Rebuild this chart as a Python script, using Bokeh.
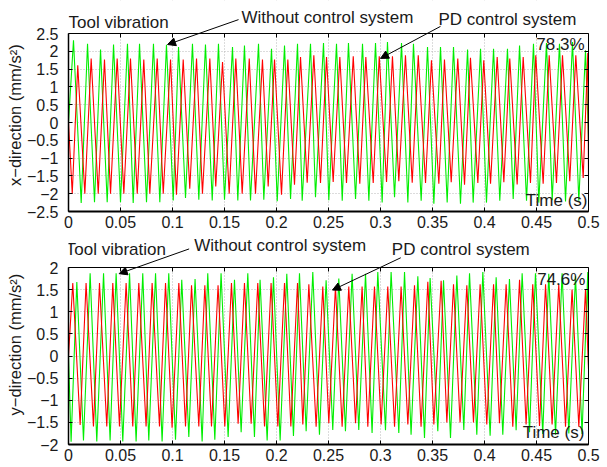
from bokeh.plotting import figure
from bokeh.layouts import column
from bokeh.models import FixedTicker, LinearAxis, Label, Arrow, NormalHead, Range1d, BoxAnnotation
from bokeh.embed import file_html
from bokeh.resources import INLINE

FONT = "Liberation Sans"
GREEN = "#00ee00"
RED = "#ff0000"

# ---------------- ticks ----------------
x_ticks = [0, 0.05, 0.1, 0.15, 0.2, 0.25, 0.3, 0.35, 0.4, 0.45, 0.5]
x_tick_labels = ["0", "0.05", "0.1", "0.15", "0.2", "0.25", "0.3", "0.35", "0.4", "0.45", "0.5"]
top_y_ticks = [-2.5, -2, -1.5, -1, -0.5, 0, 0.5, 1, 1.5, 2, 2.5]
top_y_tick_labels = ["\u22122.5", "\u22122", "\u22121.5", "\u22121", "\u22120.5", "0", "0.5", "1", "1.5", "2", "2.5"]
bot_y_ticks = [-2, -1.5, -1, -0.5, 0, 0.5, 1, 1.5, 2]
bot_y_tick_labels = ["\u22122", "\u22121.5", "\u22121", "\u22120.5", "0", "0.5", "1", "1.5", "2"]

# ---------------- top panel (x-direction) ----------------
top_green_peak_t = [0.0048, 0.0183, 0.0308, 0.0433, 0.0567, 0.0683, 0.0817, 0.0942, 0.1058, 0.1192,
                    0.1317, 0.1442, 0.1577, 0.1692, 0.1827, 0.1952, 0.2077, 0.2202, 0.2327, 0.2452,
                    0.2577, 0.2692, 0.2827, 0.2952, 0.3067, 0.3202, 0.3317, 0.3452, 0.3577, 0.3702,
                    0.3837, 0.3962, 0.4087, 0.4221, 0.4337, 0.4471, 0.4596, 0.4721, 0.4846, 0.4971]
top_green_peak_v = [2.31, 2.21, 2.05, 2.19, 2.21, 2.21, 2.21, 2.18, 2.12, 2.21,
                    2.19, 2.21, 2.12, 2.16, 2.21, 2.07, 2.16, 2.21, 2.21, 2.23,
                    2.21, 2.23, 2.21, 2.23, 2.26, 2.23, 2.21, 2.12, 2.12, 2.12,
                    2.05, 2.07, 2.07, 2.07, 2.16, 2.21, 2.23, 2.21, 2.26, 2.03]
top_green_trough_t = [0.0122, 0.0250, 0.0372, 0.0500, 0.0622, 0.0750, 0.0878, 0.1007, 0.1125, 0.1253,
                      0.1382, 0.1500, 0.1628, 0.1750, 0.1878, 0.2007, 0.2135, 0.2247, 0.2375, 0.2503,
                      0.2632, 0.2760, 0.2888, 0.3016, 0.3135, 0.3263, 0.3391, 0.3513, 0.3641, 0.3769,
                      0.3891, 0.4019, 0.4147, 0.4276, 0.4404, 0.4522, 0.4651, 0.4779, 0.4907]
top_green_trough_v = [-2.26, -2.24, -2.24, -2.24, -2.26, -2.24, -2.24, -2.19, -2.12, -2.17,
                      -2.19, -2.17, -2.19, -2.19, -2.17, -2.21, -2.15, -2.20, -2.10, -2.18,
                      -2.20, -2.15, -2.20, -2.25, -2.10, -2.25, -2.20, -2.28, -2.25, -2.28,
                      -2.25, -2.25, -2.20, -2.15, -2.20, -2.25, -2.18, -2.22, -2.20]
top_green_start = (0.0, 0.0)
top_green_end = (0.5, -0.5)

top_red_peak_t = [0.0089, 0.0218, 0.0346, 0.0468, 0.0596, 0.0724, 0.0853, 0.0981, 0.1103, 0.1231,
                  0.1359, 0.1481, 0.1609, 0.1738, 0.1865, 0.1981, 0.2109, 0.2231, 0.2359, 0.2481,
                  0.2609, 0.2738, 0.2859, 0.2988, 0.3115, 0.3240, 0.3363, 0.3490, 0.3615, 0.3743,
                  0.3865, 0.3993, 0.4122, 0.4243, 0.4372, 0.4493, 0.4622, 0.4750, 0.4878, 0.4993]
top_red_peak_v = [1.61, 1.80, 1.77, 1.80, 1.80, 1.77, 1.80, 1.77, 1.77, 1.80,
                  1.80, 1.70, 1.80, 1.80, 1.77, 1.77, 1.77, 1.84, 1.89, 1.84,
                  1.84, 1.86, 1.84, 1.86, 1.86, 1.89, 1.89, 1.75, 1.77, 1.80,
                  1.82, 1.75, 1.84, 1.80, 1.84, 1.89, 1.89, 1.89, 1.89, 1.95]
top_red_trough_t = [0.0036, 0.0157, 0.0286, 0.0404, 0.0532, 0.0661, 0.0782, 0.0911, 0.1038, 0.1166,
                    0.1288, 0.1416, 0.1545, 0.1670, 0.1798, 0.1920, 0.2048, 0.2173, 0.2295, 0.2423,
                    0.2545, 0.2673, 0.2801, 0.2930, 0.3058, 0.3176, 0.3305, 0.3433, 0.3561, 0.3680,
                    0.3808, 0.3936, 0.4058, 0.4186, 0.4314, 0.4442, 0.4564, 0.4692, 0.4820, 0.4949]
top_red_trough_v = [-2.00, -2.00, -2.00, -2.00, -2.00, -2.00, -2.00, -2.00, -2.03, -1.86,
                    -2.00, -1.80, -2.00, -2.00, -2.00, -1.80, -2.03, -1.75, -1.69, -1.70,
                    -1.67, -1.70, -1.72, -1.70, -1.67, -1.65, -1.69, -1.70, -1.72, -1.68,
                    -1.75, -1.70, -1.72, -1.68, -1.74, -1.70, -1.72, -1.70, -1.65, -1.56]
top_red_start = (0.0, 0.0)
top_red_end = (0.5, -1.5)

# ---------------- bottom panel (y-direction) ----------------
bot_green_peak_t = [0.0080, 0.0208, 0.0337, 0.0458, 0.0587, 0.0714, 0.0837, 0.0964, 0.1089, 0.1217,
                    0.1339, 0.1467, 0.1596, 0.1724, 0.1842, 0.1971, 0.2099, 0.2221, 0.2349, 0.2477,
                    0.2599, 0.2727, 0.2856, 0.2974, 0.3102, 0.3231, 0.3359, 0.3477, 0.3606, 0.3734,
                    0.3856, 0.3984, 0.4112, 0.4240, 0.4362, 0.4490, 0.4618, 0.4746, 0.4875, 0.4993]
bot_green_peak_v = [1.67, 1.87, 1.87, 1.87, 1.87, 1.87, 1.87, 1.87, 1.72, 1.74,
                    1.87, 1.87, 1.72, 1.87, 1.72, 1.78, 1.86, 1.87, 1.90, 1.71,
                    1.75, 1.86, 1.86, 1.90, 1.90, 1.90, 1.80, 1.76, 1.71, 1.82,
                    1.87, 1.90, 1.78, 1.74, 1.87, 1.87, 1.86, 1.87, 1.80, 1.90]
bot_green_trough_t = [0.0025, 0.0144, 0.0272, 0.0400, 0.0522, 0.0650, 0.0772, 0.0900, 0.1029, 0.1157,
                      0.1285, 0.1407, 0.1535, 0.1660, 0.1788, 0.1910, 0.2035, 0.2163, 0.2285, 0.2413,
                      0.2541, 0.2663, 0.2791, 0.2919, 0.3048, 0.3176, 0.3294, 0.3423, 0.3551, 0.3673,
                      0.3801, 0.3926, 0.4054, 0.4176, 0.4304, 0.4433, 0.4560, 0.4683, 0.4811, 0.4938]
bot_green_trough_v = [-1.94, -1.91, -1.93, -1.91, -1.93, -1.93, -1.91, -1.93, -1.89, -1.83,
                      -1.93, -1.89, -1.83, -1.72, -1.83, -1.91, -1.91, -1.81, -1.70, -1.78,
                      -1.67, -1.70, -1.67, -1.74, -1.68, -1.74, -1.78, -1.85, -1.70, -1.85,
                      -1.67, -1.78, -1.80, -1.78, -1.68, -1.72, -1.76, -1.78, -1.75, -1.76]
bot_green_start = (0.0, 0.0)
bot_green_end = (0.5, -0.2)

bot_red_peak_t = [0.0041, 0.0169, 0.0298, 0.0426, 0.0554, 0.0676, 0.0804, 0.0933, 0.1061, 0.1183,
                  0.1311, 0.1438, 0.1567, 0.1692, 0.1820, 0.1948, 0.2077, 0.2202, 0.2311, 0.2445,
                  0.2567, 0.2695, 0.2823, 0.2942, 0.3070, 0.3198, 0.3327, 0.3455, 0.3583, 0.3702,
                  0.3830, 0.3958, 0.4087, 0.4208, 0.4337, 0.4464, 0.4587, 0.4714, 0.4842, 0.4971]
bot_red_peak_v = [1.65, 1.65, 1.65, 1.65, 1.65, 1.65, 1.65, 1.65, 1.65, 1.60,
                  1.60, 1.60, 1.65, 1.65, 1.65, 1.65, 1.65, 1.65, 1.62, 1.57,
                  1.57, 1.57, 1.57, 1.57, 1.57, 1.57, 1.60, 1.68, 1.70, 1.62,
                  1.60, 1.62, 1.62, 1.62, 1.72, 1.62, 1.62, 1.62, 1.50, 1.50]
bot_red_trough_t = [0.0112, 0.0240, 0.0368, 0.0490, 0.0618, 0.0746, 0.0875, 0.0996, 0.1125, 0.1253,
                    0.1375, 0.1503, 0.1631, 0.1756, 0.1885, 0.2013, 0.2138, 0.2253, 0.2381, 0.2503,
                    0.2631, 0.2760, 0.2878, 0.3006, 0.3135, 0.3263, 0.3390, 0.3513, 0.3638, 0.3765,
                    0.3894, 0.4022, 0.4144, 0.4272, 0.4400, 0.4529, 0.4650, 0.4779, 0.4907]
bot_red_trough_v = [-1.56, -1.59, -1.59, -1.59, -1.59, -1.59, -1.59, -1.62, -1.59, -1.59,
                    -1.59, -1.59, -1.53, -1.53, -1.59, -1.59, -1.59, -1.55, -1.60, -1.52,
                    -1.60, -1.52, -1.60, -1.55, -1.60, -1.55, -1.60, -1.55, -1.50, -1.50,
                    -1.50, -1.55, -1.52, -1.60, -1.55, -1.58, -1.55, -1.60, -1.60]
bot_red_start = (0.0, 0.0)
bot_red_end = (0.5, -0.3)

# ---------------- texts ----------------
title_text = "Tool vibration"
without_text = "Without control system"
pd_text = "PD control system"
top_reduction = "78.3%"
bot_reduction = "74.6%"
x_label = "Time (s)"
top_y_label = "x\u2212direction (mm/s\u00b2)"
bot_y_label = "y\u2212direction (mm/s\u00b2)"


def trace(start, pt, pv, tt, tv, end):
    pts = [start] + list(zip(pt, pv)) + list(zip(tt, tv)) + [end]
    pts.sort(key=lambda a: a[0])
    return [a[0] for a in pts], [a[1] for a in pts]


def make_panel(ylo, yhi, yticks, ylabels, ylabel, label_pad, frame_h, data_h, ml, mr, mb):
    # the frame extends above the data box so that the headings can live inside it
    ppu = data_h / (yhi - ylo)
    ytop = ylo + frame_h / ppu
    p = figure(frame_width=520, frame_height=frame_h,
               x_range=Range1d(0, 0.5), y_range=Range1d(ylo, ytop),
               output_backend="svg", toolbar_location=None,
               min_border_left=ml, min_border_right=mr,
               min_border_top=0, min_border_bottom=mb,
               background_fill_color="white", border_fill_color="white")
    p.outline_line_color = None

    xt = FixedTicker(ticks=x_ticks)
    yt = FixedTicker(ticks=yticks)
    p.xaxis.ticker = xt
    p.yaxis.ticker = yt
    p.xgrid.ticker = xt
    p.ygrid.ticker = yt
    p.xaxis.major_label_overrides = {t: l for t, l in zip(x_ticks, x_tick_labels)}
    p.yaxis.major_label_overrides = {t: l for t, l in zip(yticks, ylabels)}
    for g in (p.xgrid, p.ygrid):
        g.grid_line_color = "#b8b8b8"
        g.grid_line_dash = "1 2"
        g.grid_line_width = 1
    # blank out the part of the frame above the data box (hides vertical grid there)
    p.add_layout(BoxAnnotation(bottom=yhi, fill_color="white", fill_alpha=1.0,
                               line_color=None, level="underlay"))

    for ax in (p.xaxis[0], p.yaxis[0]):
        ax.major_tick_in = 4
        ax.major_tick_out = 0
        ax.minor_tick_line_color = None
        ax.axis_line_color = "black"
        ax.major_tick_line_color = "black"
        ax.major_label_text_font = FONT
        ax.major_label_text_font_size = "16px"
        ax.major_label_text_color = "#1a1a1a"
    p.xaxis.axis_line_width = 2
    p.yaxis.axis_line_width = 1.5
    p.yaxis.bounds = (ylo, yhi)
    p.xaxis.major_label_standoff = 4
    p.yaxis.major_label_standoff = 10
    # non-breaking spaces at the end move the centred label down onto the data box
    p.yaxis.axis_label = ylabel + "\u00a0" * label_pad
    p.yaxis.axis_label_text_font = FONT
    p.yaxis.axis_label_text_font_size = "16.5px"
    p.yaxis.axis_label_text_font_style = "normal"
    p.yaxis.axis_label_text_color = "#1a1a1a"
    p.yaxis.axis_label_standoff = 0

    top_ax = LinearAxis(ticker=FixedTicker(ticks=x_ticks), fixed_location=yhi,
                        major_label_text_font_size="1px", major_label_text_color=None,
                        major_tick_in=4, major_tick_out=0, minor_tick_line_color=None,
                        major_label_standoff=0, axis_line_color="black", axis_line_width=1)
    right_ax = LinearAxis(ticker=FixedTicker(ticks=yticks), bounds=(ylo, yhi),
                          major_label_text_font_size="1px", major_label_text_color=None,
                          major_tick_in=4, major_tick_out=0, minor_tick_line_color=None,
                          major_label_standoff=0, axis_line_color="black", axis_line_width=1)
    p.add_layout(top_ax, "above")
    p.add_layout(right_ax, "right")
    return p


def add_label(p, x, y, text, align="left"):
    p.add_layout(Label(x=x, y=y, text=text, text_font=FONT, text_font_size="17px",
                       text_color="#1a1a1a", text_align=align, text_baseline="middle"))


def add_arrow(p, x0, y0, x1, y1):
    p.add_layout(Arrow(x_start=x0, y_start=y0, x_end=x1, y_end=y1, line_color="black",
                       line_width=1, end=NormalHead(size=8, fill_color="black", line_color="black")))


# ---- top figure ----
p1 = make_panel(-2.5, 2.5, top_y_ticks, top_y_tick_labels, top_y_label, 4, 211, 178, 68, 19, 24)
gx, gy = trace(top_green_start, top_green_peak_t, top_green_peak_v,
               top_green_trough_t, top_green_trough_v, top_green_end)
rx, ry = trace(top_red_start, top_red_peak_t, top_red_peak_v,
               top_red_trough_t, top_red_trough_v, top_red_end)
p1.line(gx, gy, line_color=GREEN, line_width=1.1)
p1.line(rx, ry, line_color=RED, line_width=1.1)
add_label(p1, 0.0, 2.82, title_text)
add_label(p1, 0.1663, 2.96, without_text)
add_arrow(p1, 0.1635, 2.89, 0.0952, 2.19)
add_label(p1, 0.3558, 2.90, pd_text)
add_arrow(p1, 0.3577, 2.70, 0.300, 1.80)
add_label(p1, 0.4962, 2.19, top_reduction, "right")
add_label(p1, 0.499, -2.18, x_label, "right")

# ---- bottom figure ----
p2 = make_panel(-2.0, 2.0, bot_y_ticks, bot_y_tick_labels, bot_y_label, 2, 209, 177, 66, 21, 22)
gx, gy = trace(bot_green_start, bot_green_peak_t, bot_green_peak_v,
               bot_green_trough_t, bot_green_trough_v, bot_green_end)
rx, ry = trace(bot_red_start, bot_red_peak_t, bot_red_peak_v,
               bot_red_trough_t, bot_red_trough_v, bot_red_end)
p2.line(gx, gy, line_color=GREEN, line_width=1.1)
p2.line(rx, ry, line_color=RED, line_width=1.1)
add_label(p2, -0.0026, 2.41, title_text)
add_label(p2, 0.1208, 2.49, without_text)
add_arrow(p2, 0.116, 2.42, 0.0487, 1.86)
add_label(p2, 0.3109, 2.40, pd_text)
add_arrow(p2, 0.3195, 2.22, 0.2538, 1.49)
add_label(p2, 0.497, 1.73, bot_reduction, "right")
add_label(p2, 0.496, -1.72, x_label, "right")

layout = column(p1, p2, spacing=0)
open("out.html", "w").write(file_html(layout, INLINE))
